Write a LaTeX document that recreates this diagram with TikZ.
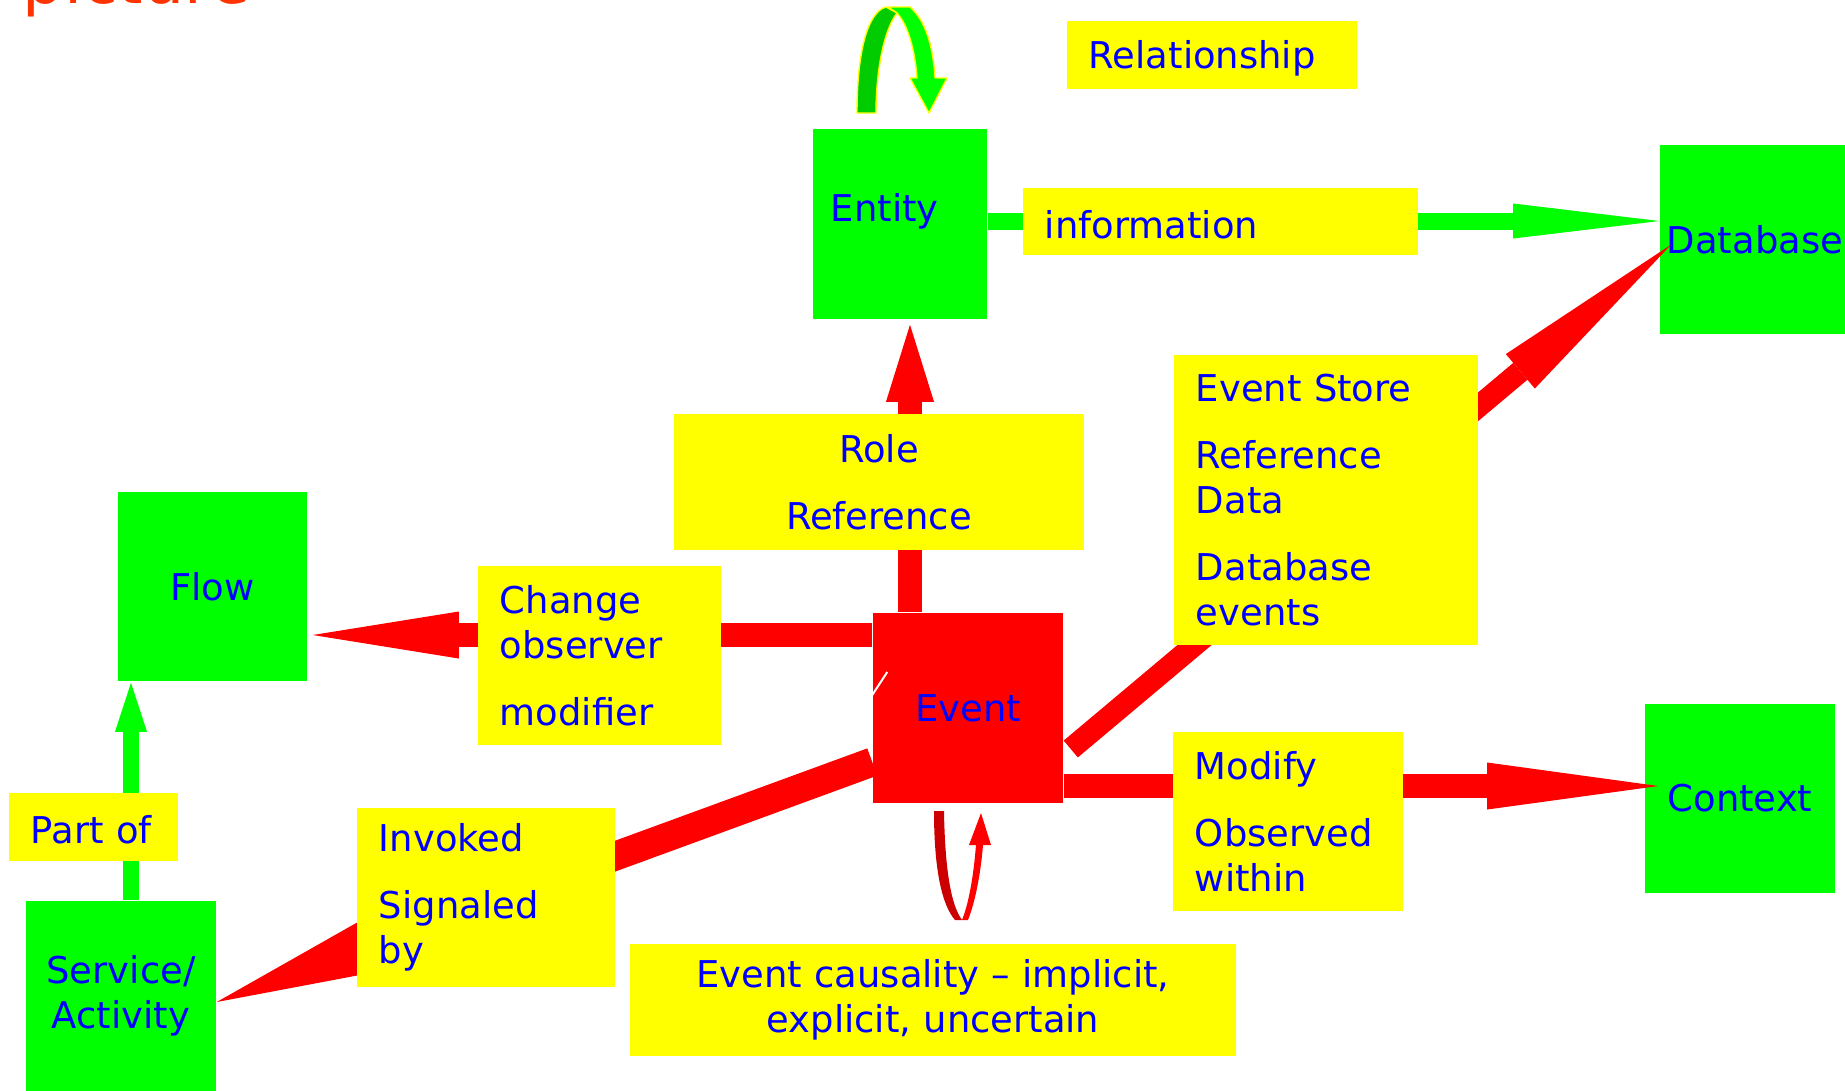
\documentclass[tikz,border=0pt]{standalone}
\usepackage{fontspec}
\setmainfont{DejaVu Sans}
\usetikzlibrary{calc, arrows.meta}
\definecolor{boxgreen}{rgb}{0, 1, 0}
\definecolor{darkgreen}{rgb}{0, 0.8, 0}
\definecolor{boxyellow}{rgb}{1, 1, 0}
\definecolor{boxred}{rgb}{1, 0, 0}
\definecolor{darkred}{rgb}{0.8, 0, 0}
\definecolor{textblue}{rgb}{0, 0, 1}
\definecolor{titlered}{rgb}{1, 0.2, 0}
\newcommand{\boxfont}{\fontsize{10.5pt}{12.8pt}\selectfont}

\begin{document}
\begin{tikzpicture}[x=0.01cm, y=-0.01cm]
    \tikzstyle{gbox}=[fill=boxgreen, text=textblue, font=\boxfont, inner sep=0pt, minimum width=1.9cm, minimum height=1.9cm, align=center]
    \tikzstyle{ybox}=[fill=boxyellow, text=textblue, font=\boxfont, inner xsep=0.22cm, inner ysep=0pt, align=left]
    \tikzstyle{redlink}=[boxred, line width=0.24cm]
    \tikzstyle{greenlink}=[boxgreen, line width=0.17cm]
    \tikzstyle{loopband}=[draw=boxyellow, line width=0.4pt, line join=round]

    \clip (0,0) rectangle (1845,1090);

    % Title, cut by the top edge
    \node[anchor=base west, text=titlered, font=\fontsize{18.5pt}{22pt}\selectfont, inner sep=0pt] (title) at (22,3) {picture};

    % Main boxes
    \node[gbox, minimum width=1.74cm, text width=1.38cm, inner xsep=0.18cm, align=left, text depth=0.33cm] (entity) at (900,224) {Entity};
    \node[gbox, minimum height=1.89cm] (db) at (1755,239.5) {Database};
    \node[gbox, minimum width=1.89cm, minimum height=1.89cm] (flow) at (212.5,586.5) {Flow};
    \node[gbox] (service) at (121,996) {Service/\\Activity};
    \node[gbox, minimum height=1.89cm] (context) at (1740,798.5) {Context};
    \node[gbox, fill=boxred] (event) at (968,708) {Event};

    % Points where the links leave the boxes
    \coordinate (evN) at ($(event.north)+(-58,0)$);
    \coordinate (evW) at ($(event.west)+(0,-73)$);
    \coordinate (evS) at ($(event.west)+(0,54)$);
    \coordinate (evE) at ($(event.east)+(0,78)$);
    \coordinate (evD) at ($(event.east)+(7,41)$);
    \coordinate (enE) at ($(entity.east)+(0,-3)$);
    \coordinate (svN) at ($(service.north)+(10,0)$);

    % Links
    \draw[greenlink, -{Triangle[length=1.46cm, width=0.35cm, line width=0pt]}] (enE) -- (enE -| db.west);
    \draw[greenlink, line width=0.16cm, -{Triangle[length=0.49cm, width=0.32cm, line width=0pt]}] (svN) -- ($(svN |- flow.south)+(0,1)$);
    \draw[redlink, -{Triangle[length=0.77cm, width=0.48cm, line width=0pt]}] (evN) -- ($(evN |- entity.south)+(0,5)$);
    \draw[redlink, -{Triangle[length=1.46cm, width=0.47cm, line width=0pt]}] (evW) -- ($(evW -| flow.east)+(5,0)$);
    \draw[redlink, -{Triangle[length=1.71cm, width=0.47cm, line width=0pt]}] (evE) -- ($(evE -| context.west)+(14,0)$);
    \draw[redlink, line width=0.22cm, -{Triangle[length=1.97cm, width=0.45cm, line width=0pt]}] (evD) -- ($(db.west)+(12,5)$);
    \draw[redlink, line width=0.29cm, -{Triangle[length=2.2cm, width=0.73cm, line width=0pt]}] (evS) -- ($(service.east)+(0,6)$);

    % Entity self loop
    \fill[boxgreen, loopband] (888,7) -- (910,7) .. controls (925,20) and (933,45) .. (935,78) -- (947,78) -- (929,113) -- (910,78) -- (917,78) .. controls (915,50) and (908,25) .. (897,13) -- cycle;
    \fill[darkgreen, loopband] (857,113) .. controls (857,50) and (868,12) .. (886,7) -- (897,13) .. controls (884,30) and (876,70) .. (876,113) -- cycle;

    % Event self loop
    \fill[darkred] (934,811) -- (944,811) .. controls (945,870) and (951,905) .. (962,920) -- (955,920) .. controls (942,905) and (934,870) .. (934,811) -- cycle;
    \fill[boxred] (962,920) -- (968,920) .. controls (976,900) and (981,870) .. (983,845) -- (991,845) -- (981,813) -- (969,845) -- (976,845) .. controls (974,870) and (970,900) .. (962,920) -- cycle;

    % Thin white stroke on the event box
    \draw[white, line width=0.02cm] ($(event.west)+(0,-13)$) -- ($(event.west)+(15,-36)$);

    % Labels
    \node[ybox, minimum width=2.9cm, minimum height=0.68cm, text width=2.46cm, text height=0.34cm] (rel) at (1212,55) {Relationship};
    \node[ybox, minimum width=3.95cm, minimum height=0.67cm, text width=3.51cm, text height=0.34cm] (info) at (1220.5,221.5) {information};
    \node[ybox, minimum width=4.1cm, minimum height=1.36cm, text width=3.66cm, align=center] (role) at (879,482) {Role\\[0.22cm]Reference};
    \node[ybox, minimum width=2.43cm, minimum height=1.79cm, text width=1.99cm] (change) at (599.5,655.5) {Change\\observer\\[0.22cm]modifier};
    \node[ybox, minimum width=2.58cm, minimum height=1.79cm, text width=2.14cm] (invoked) at (486,897.5) {Invoked\\[0.22cm]Signaled\\by};
    \node[ybox, minimum width=3.04cm, minimum height=2.9cm, text width=2.6cm] (store) at (1326,500) {Event Store\\[0.22cm]Reference\\Data\\[0.22cm]Database\\events};
    \node[ybox, minimum width=2.3cm, minimum height=1.79cm, text width=1.86cm] (modify) at (1288,821.5) {Modify\\[0.22cm]Observed\\within};
    \node[ybox, minimum width=1.69cm, minimum height=0.68cm, text width=1.25cm, text height=0.33cm] (partof) at (93.5,827) {Part of};
    \node[ybox, minimum width=6.06cm, minimum height=1.12cm, text width=5.62cm, align=center] (causal) at (933,1000) {Event causality – implicit,\\explicit, uncertain};
\end{tikzpicture}
\end{document}
